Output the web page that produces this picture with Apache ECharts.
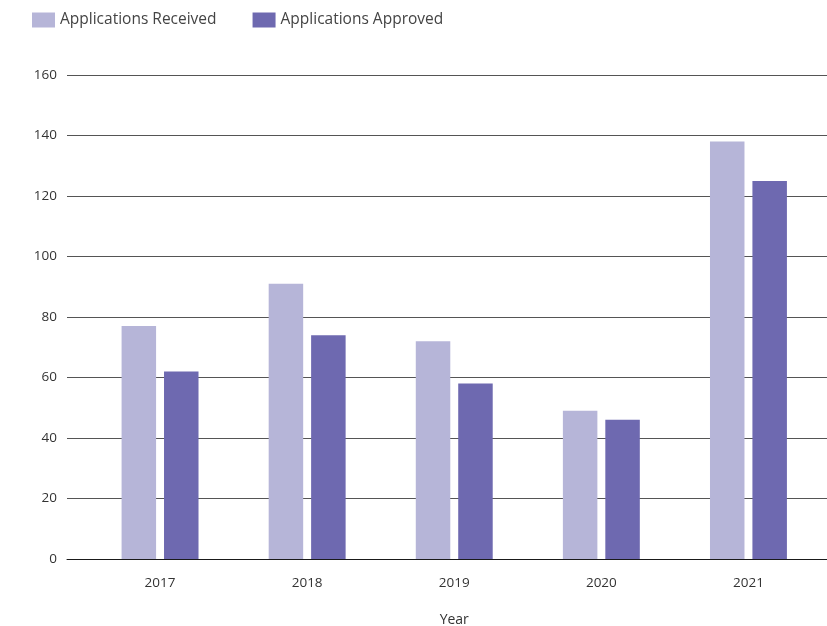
<!DOCTYPE html>
<html>
<head>
<meta charset="utf-8">
<style>
  html, body { margin: 0; padding: 0; background: #ffffff; }
  #chart { width: 827px; height: 626px; }
</style>
<script src="https://cdn.jsdelivr.net/npm/echarts@6/dist/echarts.min.js"></script>
</head>
<body>
<div id="chart"></div>
<script>
// Applications per year
const years = ['2017', '2018', '2019', '2020', '2021'];
const received = [77, 91, 72, 49, 138];
const approved = [62, 74, 58, 46, 125];
const yTicks = { min: 0, max: 160, interval: 20 };

const FONT = '"Open Sans", "Noto Sans", sans-serif';
const chart = echarts.init(document.getElementById('chart'), null, { renderer: 'canvas' });

chart.setOption({
  animation: false,
  textStyle: { fontFamily: FONT },
  legend: {
    left: 32,
    top: 12,
    padding: 0,
    itemWidth: 23,
    itemHeight: 15,
    itemGap: 36,
    icon: 'rect',
    textStyle: { fontFamily: FONT, fontSize: 15.5, color: '#444' },
    data: ['Applications Received', 'Applications Approved']
  },
  grid: [
    // gridline layer spanning the full width
    { left: 67, right: 0, top: 75, bottom: 67, outerBoundsMode: 'none' },
    // plotting band for the bars
    { left: 86.5, right: 5, top: 75, bottom: 67, outerBoundsMode: 'none' }
  ],
  xAxis: [
    {
      type: 'category',
      gridIndex: 0,
      data: years,
      axisLine: { show: true, lineStyle: { color: '#1a1a1a', width: 1 } },
      axisTick: { show: false },
      axisLabel: { show: false },
      splitLine: { show: false }
    },
    {
      type: 'category',
      gridIndex: 1,
      data: years,
      name: 'Year',
      nameLocation: 'middle',
      nameGap: 54,
      nameTextStyle: { fontFamily: FONT, fontSize: 14, color: '#333' },
      axisLine: { show: false },
      axisTick: { show: false },
      axisLabel: { fontFamily: FONT, fontSize: 13.5, color: '#333', margin: 17 }
    }
  ],
  yAxis: [
    {
      type: 'value',
      gridIndex: 0,
      min: yTicks.min,
      max: yTicks.max,
      interval: yTicks.interval,
      axisLine: { show: false },
      axisTick: { show: false },
      axisLabel: { fontFamily: FONT, fontSize: 13.5, color: '#333', margin: 10 },
      splitLine: { show: true, lineStyle: { color: '#555', width: 1 } }
    },
    {
      type: 'value',
      gridIndex: 1,
      min: yTicks.min,
      max: yTicks.max,
      interval: yTicks.interval,
      show: false,
      splitLine: { show: false }
    }
  ],
  series: [
    {
      name: 'Applications Received',
      type: 'bar',
      xAxisIndex: 1,
      yAxisIndex: 1,
      data: received,
      barWidth: 34.5,
      barGap: '23%',
      itemStyle: { color: '#b6b5d8' }
    },
    {
      name: 'Applications Approved',
      type: 'bar',
      xAxisIndex: 1,
      yAxisIndex: 1,
      data: approved,
      barWidth: 34.5,
      itemStyle: { color: '#6e69b0' }
    }
  ]
});
</script>
</body>
</html>
